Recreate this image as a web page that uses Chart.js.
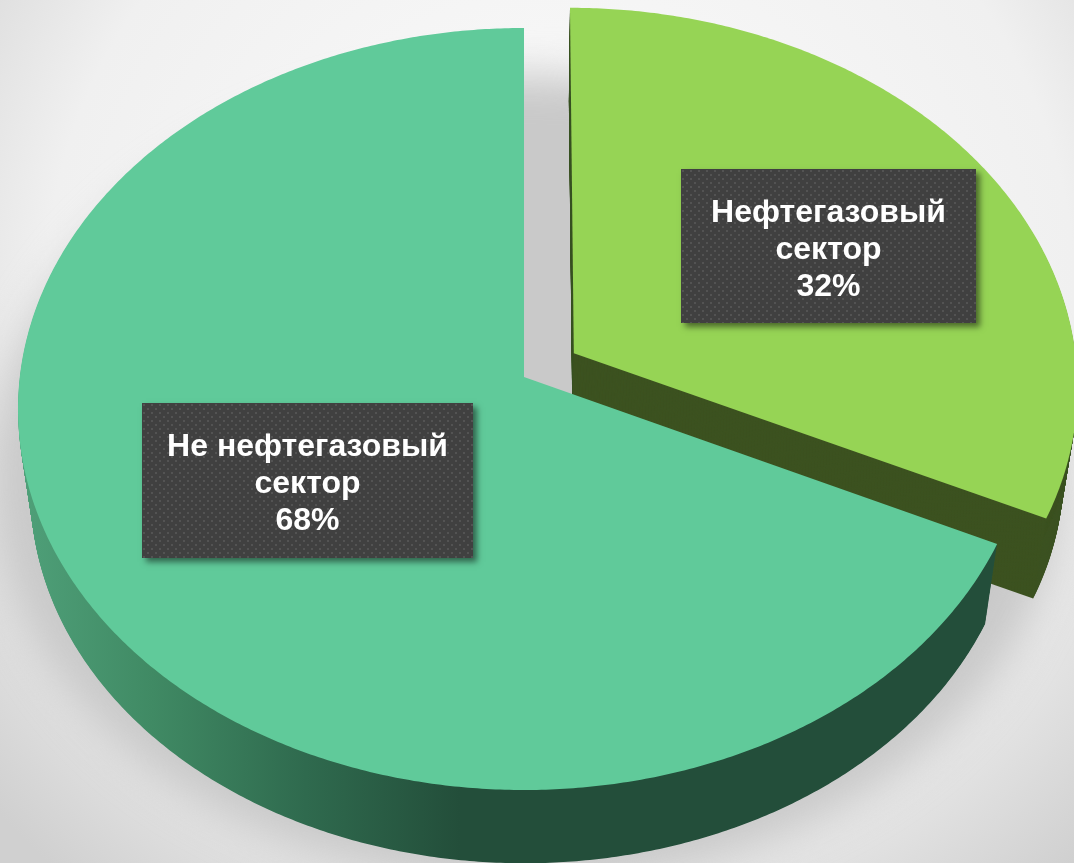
<!DOCTYPE html>
<html lang="ru">
<head>
<meta charset="utf-8">
<title>Нефтегазовый сектор</title>
<script src="https://cdn.jsdelivr.net/npm/chart.js@4"></script>
<style>html,body{margin:0;padding:0;overflow:hidden;background:#fff}canvas{display:block}</style>
</head>
<body>
<canvas id="c" width="1074" height="863"></canvas>
<script>
const categories = ['Нефтегазовый сектор', 'Не нефтегазовый сектор'];
const labelLines = [['Нефтегазовый', 'сектор'], ['Не нефтегазовый', 'сектор']];
const values = [32, 68];
const sliceColors = ['#96d455', '#60ca9a'];
const explode = [160, 0];
const labelBoxes = [[681, 169, 295, 154], [142, 403, 331, 155]];

const view = { ex: 524, ey: 409, rx: 506, ry: 381, p: -0.084, depth: 83, shrink: 0.025, pivotY: 400 };

function project(u, v, t) {
  const d = 1 + view.p * v;
  const X = u * Math.sqrt(1 - view.p * view.p) / d;
  const Y = (v + view.p) / d;
  const s = 1 - view.shrink * t;
  const x = view.ex + view.rx * X;
  const y = view.ey + view.ry * Y;
  return [view.ex + (x - view.ex) * s, view.pivotY + (y - view.pivotY) * s + view.depth * t];
}

function tracePolygon(ctx, arc, t) {
  const R = arc.outerRadius;
  const mid = (arc.startAngle + arc.endAngle) / 2;
  const off = (arc.options.offset || 0) / 4 / R;
  const ou = Math.cos(mid) * off, ov = Math.sin(mid) * off;
  const steps = Math.ceil((arc.endAngle - arc.startAngle) * 120);
  ctx.beginPath();
  let p = project(ou, ov, t);
  ctx.moveTo(p[0], p[1]);
  for (let i = 0; i <= steps; i++) {
    const a = arc.startAngle + (arc.endAngle - arc.startAngle) * i / steps;
    p = project(ou + Math.cos(a), ov + Math.sin(a), t);
    ctx.lineTo(p[0], p[1]);
  }
  ctx.closePath();
}

const pie3d = {
  id: 'pie3d',
  beforeDraw(chart) {
    const ctx = chart.ctx;
    ctx.save();
    const bg = ctx.createRadialGradient(560, 300, 60, 560, 300, 760);
    bg.addColorStop(0, '#fbfbfb');
    bg.addColorStop(0.65, '#f0f0f0');
    bg.addColorStop(1, '#d0d0d0');
    ctx.fillStyle = bg;
    ctx.fillRect(0, 0, chart.width, chart.height);
    ctx.filter = 'blur(20px)';
    ctx.fillStyle = '#c9c9c9';
    ctx.beginPath();
    ctx.ellipse(526, 480, 535, 405, 0, 0, Math.PI * 2);
    ctx.fill();
    ctx.restore();
  },
  beforeDatasetsDraw(chart) {
    const ctx = chart.ctx;
    const arcs = chart.getDatasetMeta(0).data;
    const wallMain = ctx.createLinearGradient(20, 0, 460, 0);
    wallMain.addColorStop(0, '#4fa079');
    wallMain.addColorStop(0.3, '#408a64');
    wallMain.addColorStop(0.65, '#2f6a4e');
    wallMain.addColorStop(1, '#234e3a');
    const walls = ['#3c5220', wallMain];
    arcs.forEach((arc, i) => {
      ctx.save();
      ctx.fillStyle = walls[i];
      for (let d = view.depth; d > 0; d -= 1) {
        tracePolygon(ctx, arc, d / view.depth);
        ctx.fill();
      }
      ctx.fillStyle = arc.options.backgroundColor;
      tracePolygon(ctx, arc, 0);
      ctx.fill();
      ctx.restore();
    });
    return false;
  },
  afterDraw(chart) {
    const ctx = chart.ctx;
    const tile = document.createElement('canvas');
    tile.width = tile.height = 8;
    const tc = tile.getContext('2d');
    tc.fillStyle = '#404040';
    tc.fillRect(0, 0, 8, 8);
    tc.fillStyle = '#535353';
    tc.fillRect(1, 1, 2, 2);
    tc.fillRect(5, 5, 2, 2);
    const total = values.reduce((a, b) => a + b, 0);
    labelBoxes.forEach((b, i) => {
      ctx.save();
      ctx.shadowColor = 'rgba(0,0,0,0.5)';
      ctx.shadowBlur = 6;
      ctx.shadowOffsetX = 4;
      ctx.shadowOffsetY = 4;
      ctx.fillStyle = '#404040';
      ctx.fillRect(b[0], b[1], b[2], b[3]);
      ctx.restore();
      ctx.save();
      ctx.translate(b[0], b[1]);
      ctx.fillStyle = ctx.createPattern(tile, 'repeat');
      ctx.fillRect(0, 0, b[2], b[3]);
      ctx.restore();
      ctx.save();
      ctx.fillStyle = '#ffffff';
      ctx.font = 'bold 32px "Liberation Sans", Arial, sans-serif';
      ctx.textAlign = 'center';
      ctx.textBaseline = 'alphabetic';
      const lines = labelLines[i].concat([Math.round(values[i] / total * 100) + '%']);
      lines.forEach((line, k) => ctx.fillText(line, b[0] + b[2] / 2, b[1] + 53 + k * 37));
      ctx.restore();
    });
  }
};

new Chart(document.getElementById('c'), {
  type: 'pie',
  data: {
    labels: categories,
    datasets: [{ data: values, backgroundColor: sliceColors, offset: explode, borderWidth: 0 }]
  },
  options: {
    responsive: false,
    animation: false,
    radius: 340,
    plugins: { legend: { display: false }, tooltip: { enabled: false } }
  },
  plugins: [pie3d]
});
</script>
</body>
</html>
